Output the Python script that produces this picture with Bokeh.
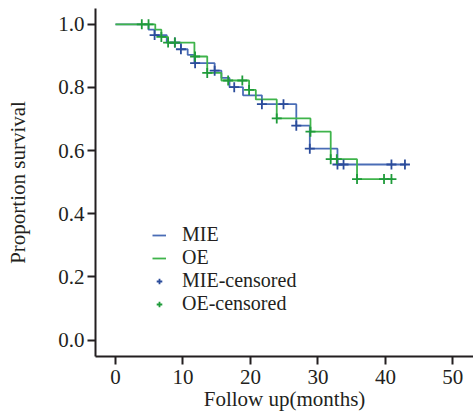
from bokeh.plotting import figure
from bokeh.models import Range1d, FixedTicker, PrintfTickFormatter, Legend, LegendItem, ColumnDataSource
from bokeh.embed import file_html
from bokeh.resources import INLINE

# MIE group (Kaplan-Meier step data)
mie_t = [0, 4.9, 5.8, 7.6, 9.7, 10.7, 11.7, 14.7, 15.7, 16.9, 18.9, 21.7, 26.8, 28.8, 32.9]
mie_s = [1.0, 0.983, 0.966, 0.942, 0.921, 0.903, 0.877, 0.853, 0.830, 0.801, 0.775, 0.747, 0.679, 0.606, 0.556]
mie_end = 43.1
mie_cens = [5.8, 8.8, 9.7, 11.8, 14.7, 17.6, 21.7, 24.9, 26.8, 28.8, 32.9, 33.8, 40.9, 42.9]

# OE group
oe_t = [0, 5.9, 6.8, 7.8, 11.7, 13.6, 15.7, 19.8, 20.8, 23.9, 28.9, 31.9, 35.8]
oe_s = [1.0, 0.983, 0.960, 0.942, 0.898, 0.846, 0.822, 0.792, 0.762, 0.702, 0.660, 0.573, 0.510]
oe_end = 41.1
oe_cens = [3.9, 4.9, 6.8, 7.8, 8.8, 11.8, 13.6, 16.7, 18.8, 19.8, 23.9, 28.9, 31.9, 32.8, 35.8, 39.8, 40.9]

x_ticks = [0, 10, 20, 30, 40, 50]
y_ticks = [0.0, 0.2, 0.4, 0.6, 0.8, 1.0]
legend_labels = ["MIE", "OE", "MIE-censored", "OE-censored"]

FONT = "Liberation Serif"
AX = "#231f20"
BLUE_L, BLUE_M = "#4a6db6", "#2b4c9b"
GREEN_L, GREEN_M = "#3fb44b", "#1f9b3a"


def level_at(ts, ss, c):
    v = ss[0]
    for t, s in zip(ts, ss):
        if t <= c + 1e-9:
            v = s
    return v


p = figure(width=473, height=413, output_backend="svg", toolbar_location=None,
           x_range=Range1d(-2.96, 53.06), y_range=Range1d(-0.052, 1.05),
           min_border_left=95, min_border_right=0, min_border_top=8, min_border_bottom=52)
p.outline_line_color = None
p.grid.visible = False
p.background_fill_color = "white"
p.border_fill_color = "white"

for ax in (p.xaxis[0], p.yaxis[0]):
    ax.axis_line_color = AX
    ax.axis_line_width = 2
    ax.major_tick_line_color = AX
    ax.major_tick_line_width = 2
    ax.major_tick_out = 8
    ax.major_tick_in = 0
    ax.minor_tick_line_color = None
    ax.major_label_text_font = FONT
    ax.major_label_text_font_size = "21px"
    ax.major_label_text_color = "#231f20"
    ax.axis_label_text_font = FONT
    ax.axis_label_text_font_size = "21px"
    ax.axis_label_text_font_style = "normal"
    ax.axis_label_text_color = "#231f20"

p.xaxis.ticker = FixedTicker(ticks=x_ticks)
p.yaxis.ticker = FixedTicker(ticks=y_ticks)
p.yaxis.formatter = PrintfTickFormatter(format="%.1f")
p.xaxis.axis_label = "Follow up(months)"
p.yaxis.axis_label = "Proportion survival"
p.xaxis.major_label_standoff = 5
p.yaxis.major_label_standoff = 3
p.xaxis.axis_label_standoff = 0
p.yaxis.axis_label_standoff = 25

mie_src = ColumnDataSource(dict(x=mie_t + [mie_end], y=mie_s + [mie_s[-1]]))
oe_src = ColumnDataSource(dict(x=oe_t + [oe_end], y=oe_s + [oe_s[-1]]))

r_mie = p.step("x", "y", source=mie_src, mode="after", line_color=BLUE_L, line_width=1.8)
r_oe = p.step("x", "y", source=oe_src, mode="after", line_color=GREEN_L, line_width=1.8)

mie_cy = [level_at(mie_t, mie_s, c) for c in mie_cens]
oe_cy = [level_at(oe_t, oe_s, c) for c in oe_cens]
r_mc = p.scatter(mie_cens, mie_cy, marker="cross", size=10, line_color=BLUE_M, line_width=1.8)
r_oc = p.scatter(oe_cens, oe_cy, marker="cross", size=10, line_color=GREEN_M, line_width=1.8)

renderers = [r_mie, r_oe, r_mc, r_oc]
legend_y = [110, 87, 64, 41]
for lab, rr, ly in zip(legend_labels, renderers, legend_y):
    lg = Legend(items=[LegendItem(label=lab, renderers=[rr])], location=(57, ly))
    lg.background_fill_alpha = 0
    lg.border_line_color = None
    lg.padding = 0
    lg.margin = 0
    lg.glyph_width = 14
    lg.glyph_height = 20
    lg.label_height = 20
    lg.label_standoff = 16
    lg.label_text_font = FONT
    lg.label_text_font_size = "20px"
    lg.label_text_color = "#231f20"
    p.add_layout(lg)

open("out.html", "w").write(file_html(p, INLINE))
